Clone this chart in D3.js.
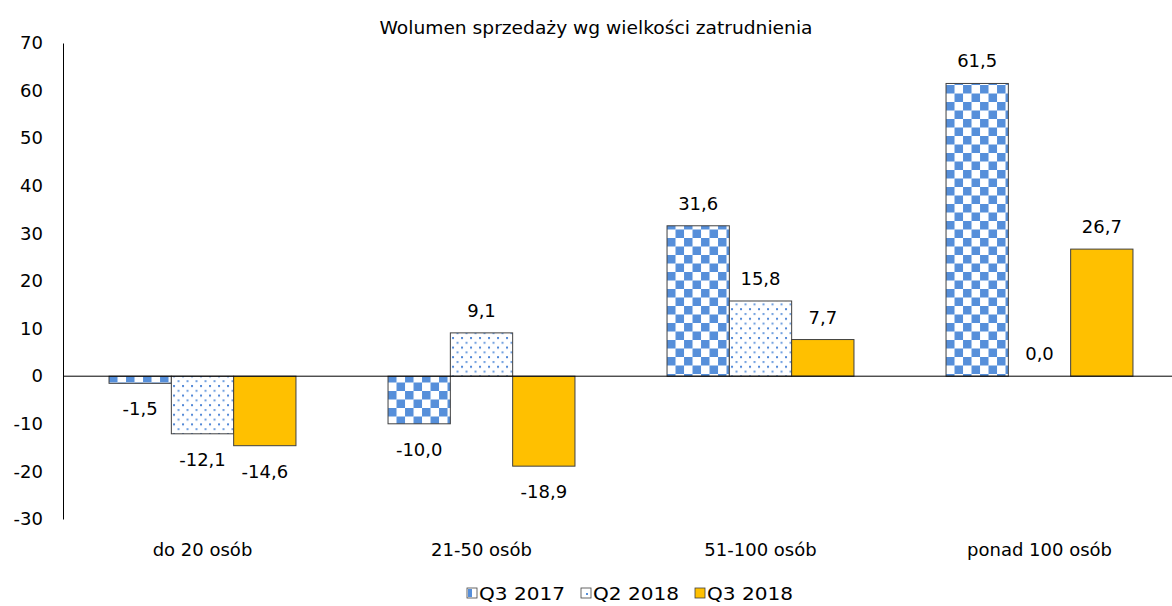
<!DOCTYPE html>
<html>
<head>
<meta charset="utf-8">
<script src="https://cdn.jsdelivr.net/npm/d3@7"></script>
<style>
  html, body { margin: 0; padding: 0; background: #fff; }
  svg text { font-family: "DejaVu Sans", sans-serif; fill: #000; }
</style>
</head>
<body>
<svg id="chart" width="1172" height="606"></svg>
<script>
const title = "Wolumen sprzedaży wg wielkości zatrudnienia";
const categories = ["do 20 osób", "21-50 osób", "51-100 osób", "ponad 100 osób"];
const seriesNames = ["Q3 2017", "Q2 2018", "Q3 2018"];
const q3_2017 = [-1.5, -10.0, 31.6, 61.5];
const q2_2018 = [-12.1, 9.1, 15.8, 0.0];
const q3_2018 = [-14.6, -18.9, 7.7, 26.7];
const yTicks = [-30, -20, -10, 0, 10, 20, 30, 40, 50, 60, 70];

const seriesValues = [q3_2017, q2_2018, q3_2018];
const fills = ["url(#checker)", "url(#dots)", "#FFC000"];

const svg = d3.select("#chart");
const fs = 18;

// fill patterns
const defs = svg.append("defs");
const chk = defs.append("pattern").attr("id", "checker")
  .attr("patternUnits", "userSpaceOnUse").attr("width", 17).attr("height", 17);
chk.append("rect").attr("width", 17).attr("height", 17).attr("fill", "#fff");
chk.append("rect").attr("x", 0).attr("y", 0).attr("width", 8.5).attr("height", 8.5).attr("fill", "#568FDA");
chk.append("rect").attr("x", 8.5).attr("y", 8.5).attr("width", 8.5).attr("height", 8.5).attr("fill", "#568FDA");

const dots = defs.append("pattern").attr("id", "dots")
  .attr("patternUnits", "userSpaceOnUse").attr("width", 9).attr("height", 9.6);
dots.append("rect").attr("width", 9).attr("height", 9.6).attr("fill", "#fff");
dots.append("rect").attr("x", 1).attr("y", 1).attr("width", 2).attr("height", 2).attr("fill", "#4F86D6");
dots.append("rect").attr("x", 5.5).attr("y", 5.8).attr("width", 2).attr("height", 2).attr("fill", "#6F9FE0");

const plotLeft = 63, plotRight = 1179, plotTop = 43, plotBottom = 519;

const x0 = d3.scaleBand().domain(categories).range([plotLeft, plotRight]).paddingInner(0).paddingOuter(0);
const groupW = x0.bandwidth() * 0.67;
const x1 = d3.scaleBand().domain(seriesNames).range([0, groupW]).padding(0);
const y = d3.scaleLinear().domain([-30, 70]).range([plotBottom, plotTop]);

// title
svg.append("text").attr("x", 596).attr("y", 34).attr("text-anchor", "middle")
  .attr("font-size", fs).attr("textLength", 433).attr("lengthAdjust", "spacingAndGlyphs").text(title);

// y axis
const yAxis = svg.append("g").attr("transform", `translate(${plotLeft},0)`)
  .call(d3.axisLeft(y).tickValues(yTicks).tickSize(0).tickPadding(20).tickFormat(d => String(d)));
yAxis.select(".domain").attr("stroke", "#000").attr("stroke-width", 1);
yAxis.selectAll("text").attr("font-size", fs).attr("font-family", "DejaVu Sans").attr("fill", "#000");

// bars
const fmt = v => v.toFixed(1).replace(".", ",");
const groups = svg.append("g").selectAll("g").data(categories).join("g")
  .attr("transform", d => `translate(${x0(d) + (x0.bandwidth() - groupW) / 2},0)`);

seriesNames.forEach((s, si) => {
  groups.append("rect")
    .attr("x", x1(s))
    .attr("width", x1.bandwidth())
    .attr("y", (d, i) => y(Math.max(0, seriesValues[si][i])))
    .attr("height", (d, i) => Math.abs(y(seriesValues[si][i]) - y(0)))
    .attr("fill", fills[si])
    .attr("stroke", "#404040").attr("stroke-width", 1);
  groups.append("text")
    .attr("x", x1(s) + x1.bandwidth() / 2)
    .attr("y", (d, i) => {
      const v = seriesValues[si][i];
      return v >= 0 ? y(v) - 16 : y(v) + 32;
    })
    .attr("text-anchor", "middle").attr("font-size", fs)
    .text((d, i) => fmt(seriesValues[si][i]));
});

// zero line
svg.append("line").attr("x1", plotLeft).attr("x2", 1172).attr("y1", y(0)).attr("y2", y(0))
  .attr("stroke", "#000").attr("stroke-width", 1);

// category labels
svg.append("g").selectAll("text").data(categories).join("text")
  .attr("x", d => x0(d) + x0.bandwidth() / 2).attr("y", 556)
  .attr("text-anchor", "middle").attr("font-size", fs).text(d => d);

// legend
const legendX = [467, 581, 695];
const lg = svg.append("g").selectAll("g").data(seriesNames).join("g")
  .attr("transform", (d, i) => `translate(${legendX[i]},588)`);
lg.append("rect").attr("width", 10).attr("height", 10)
  .attr("fill", (d, i) => i === 2 ? "#FFC000" : "#fff").attr("stroke", "#404040").attr("stroke-width", 0.8);
lg.filter((d, i) => i === 0).append("rect").attr("x", 1).attr("y", 1).attr("width", 4).attr("height", 8).attr("fill", "#568FDA");
lg.filter((d, i) => i === 1).append("rect").attr("x", 5).attr("y", 5).attr("width", 2).attr("height", 2).attr("fill", "#568FDA");
lg.append("text").attr("x", 12).attr("y", 12).attr("font-size", fs)
  .attr("textLength", 86).attr("lengthAdjust", "spacingAndGlyphs").text(d => d);
</script>
</body>
</html>
